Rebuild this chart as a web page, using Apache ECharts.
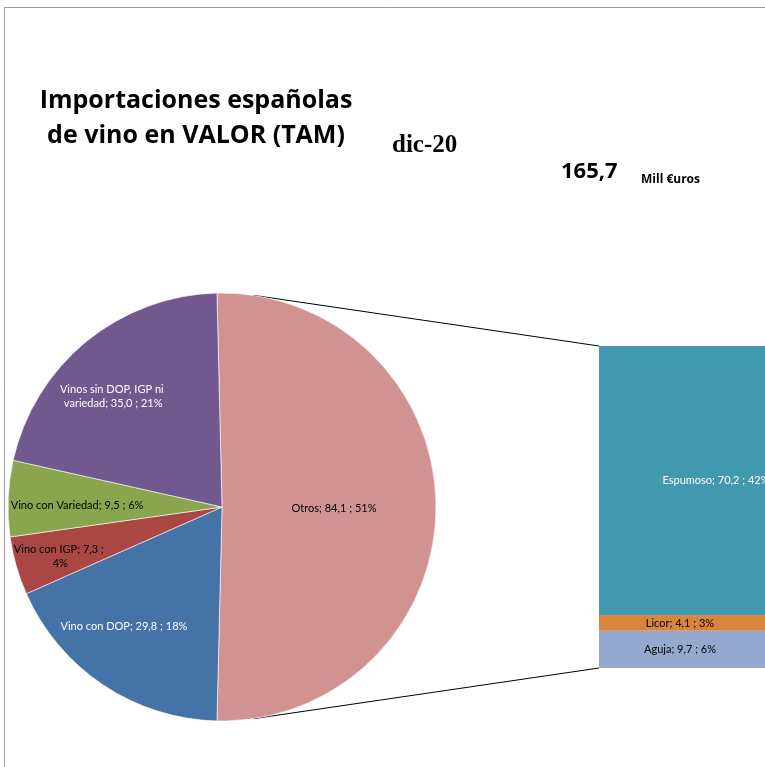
<!DOCTYPE html>
<html>
<head>
<meta charset="utf-8">
<script src="https://cdn.jsdelivr.net/npm/echarts@6/dist/echarts.min.js"></script>
<style>
  html, body { margin: 0; padding: 0; background: #fff; }
  #chart { width: 765px; height: 767px; }
</style>
</head>
<body>
<div id="chart"></div>
<script>
// pie: the main breakdown (Otros is split out in the bar)
var pieNames = ['Otros', 'Vino con DOP', 'Vino con IGP', 'Vino con Variedad', 'Vinos sin DOP, IGP ni variedad'];
var pieValues = [84.1, 29.8, 7.3, 9.5, 35.0];
var piePct = [51, 18, 4, 6, 21];

// bar: breakdown of "Otros", bottom to top
var barNames = ['Aguja', 'Licor', 'Espumoso'];
var barValues = [9.7, 4.1, 70.2];
var barPct = [6, 3, 42];

var titleText = 'Importaciones españolas\nde vino en VALOR (TAM)';
var periodText = 'dic-20';
var totalText = '165,7';
var unitText = 'Mill €uros';

var pieColors = ['#D19392', '#4572A7', '#AA4643', '#89A54E', '#71588F'];
var pieTextColors = ['#000', '#fff', '#000', '#000', '#fff'];
var pieLabelShift = [[2, 1], [-37, 28], [-56, 19], [-35, 3], [-39, -26]];
var pieLabelWidth = [200, 200, 95, 200, 110];
var barColors = ['#93A9CF', '#DB843D', '#4198AF'];
var barTextColors = ['#000', '#000', '#fff'];
var barLabelShift = [[-2, 0], [-2, 0], [34, 0]];

var FONT = 'Lato';
var HEAD = 'Open Sans';
var pieC = [222, 507], pieR = 214;
var barLeft = 599, barTop = 346, barH = 322, barW = 166;

function fmt(v) { return v.toFixed(1).replace('.', ','); }

var pieTotal = pieValues.reduce(function (a, b) { return a + b; }, 0);
var barTotal = barValues.reduce(function (a, b) { return a + b; }, 0);

// tangent point on the pie circle seen from a bar corner
function tangent(px, py, upper) {
  var dx = px - pieC[0], dy = py - pieC[1];
  var d = Math.sqrt(dx * dx + dy * dy);
  var base = Math.atan2(dy, dx);
  var a = Math.acos(pieR / d);
  var t = upper ? base - a : base + a;
  return [pieC[0] + pieR * Math.cos(t), pieC[1] + pieR * Math.sin(t)];
}
var tTop = tangent(barLeft, barTop, true);
var tBot = tangent(barLeft, barTop + barH, false);

var chart = echarts.init(document.getElementById('chart'), null, { renderer: 'canvas' });

var barSeries = barNames.map(function (name, i) {
  return {
    name: name,
    type: 'bar',
    stack: 'otros',
    barWidth: '100%',
    data: [barValues[i]],
    itemStyle: { color: barColors[i] },
    label: {
      show: true,
      position: 'inside',
      offset: barLabelShift[i],
      color: barTextColors[i],
      fontFamily: FONT,
      fontSize: 11,
      formatter: function () { return name + '; ' + fmt(barValues[i]) + ' ; ' + barPct[i] + '%'; }
    },
    silent: true
  };
});

chart.setOption({
  animation: false,
  title: [
    { text: titleText, left: 191, top: 78, textAlign: 'center',
      textStyle: { fontFamily: HEAD, fontWeight: 'bold', fontSize: 25, lineHeight: 35, color: '#000' } },
    { text: periodText, left: 387, top: 128,
      textStyle: { fontFamily: 'Liberation Serif', fontWeight: 'bold', fontSize: 25, color: '#000' } },
    { text: totalText, left: 556, top: 156,
      textStyle: { fontFamily: HEAD, fontWeight: 'bold', fontSize: 22, color: '#000' } },
    { text: unitText, left: 636, top: 169,
      textStyle: { fontFamily: HEAD, fontWeight: 'bold', fontSize: 12, color: '#000' } }
  ],
  grid: { left: barLeft, top: barTop, width: barW, height: barH },
  xAxis: { type: 'category', data: ['Otros'], show: false },
  yAxis: { type: 'value', min: 0, max: barTotal, show: false },
  series: [{
    type: 'pie',
    center: pieC,
    radius: pieR,
    startAngle: (pieValues[0] / pieTotal * 360) / 2,
    clockwise: true,
    avoidLabelOverlap: false,
    silent: true,
    itemStyle: { borderColor: '#fff', borderWidth: 0.6 },
    label: { position: 'inside', fontFamily: FONT, fontSize: 11, lineHeight: 14 },
    labelLine: { show: false },
    labelLayout: function (p) {
      var s = pieLabelShift[p.dataIndex];
      return { dx: s[0], dy: s[1] };
    },
    data: pieNames.map(function (name, i) {
      return {
        name: name,
        value: pieValues[i],
        itemStyle: { color: pieColors[i] },
        label: {
          color: pieTextColors[i],
          width: pieLabelWidth[i],
          overflow: 'break',
          formatter: name + '; ' + fmt(pieValues[i]) + ' ; ' + piePct[i] + '%'
        }
      };
    })
  }].concat(barSeries),
  graphic: [
    { type: 'rect', shape: { x: 4.5, y: 7.5, width: 900, height: 900 },
      style: { fill: 'none', stroke: '#9a9a9a', lineWidth: 1 }, silent: true },
    { type: 'line', shape: { x1: tTop[0], y1: tTop[1], x2: barLeft, y2: barTop },
      style: { stroke: '#000', lineWidth: 1 }, silent: true },
    { type: 'line', shape: { x1: tBot[0], y1: tBot[1], x2: barLeft, y2: barTop + barH },
      style: { stroke: '#000', lineWidth: 1 }, silent: true }
  ]
});
</script>
</body>
</html>
